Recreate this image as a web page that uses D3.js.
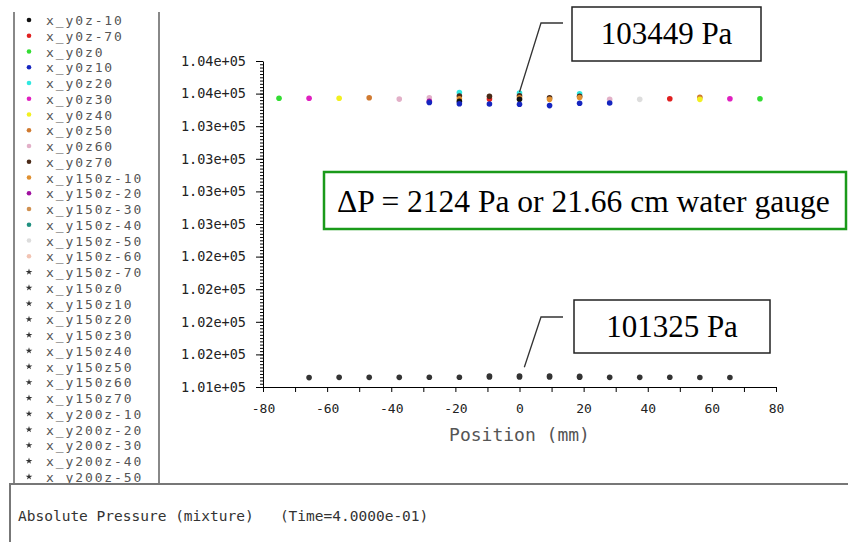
<!DOCTYPE html>
<html>
<head>
<meta charset="utf-8">
<script src="https://cdn.jsdelivr.net/npm/d3@7"></script>
<style>
  body { margin: 0; background: #fff; }
  svg { display: block; }
</style>
</head>
<body>
<div id="chart"></div>
<script>
// legend entries, in the order the solver listed them
var seriesNames = [
  "x_y0z-10", "x_y0z-70", "x_y0z0", "x_y0z10", "x_y0z20", "x_y0z30", "x_y0z40",
  "x_y0z50", "x_y0z60", "x_y0z70", "x_y150z-10", "x_y150z-20", "x_y150z-30",
  "x_y150z-40", "x_y150z-50", "x_y150z-60", "x_y150z-70", "x_y150z0", "x_y150z10",
  "x_y150z20", "x_y150z30", "x_y150z40", "x_y150z50", "x_y150z60", "x_y150z70",
  "x_y200z-10", "x_y200z-20", "x_y200z-30", "x_y200z-40", "x_y200z-50"
];
var seriesColors = [
  "#111111", "#e02020", "#33dd33", "#1525c0", "#30e8e0", "#e020c0", "#f2f020",
  "#d07a30", "#e2b0c8", "#4a2a18", "#e09030", "#a010a0", "#d09050",
  "#209080", "#dddddd", "#f2c4b4", "#333333", "#333333", "#333333",
  "#333333", "#333333", "#333333", "#333333", "#333333", "#333333",
  "#333333", "#333333", "#333333", "#333333", "#333333"
];

// pressure (Pa), per series: [position mm, value]
var seriesPoints = {
  "x_y0z0":     [[-75, 103464], [75, 103460]],
  "x_y0z30":    [[-65.625, 103464], [65.625, 103460]],
  "x_y0z50":    [[-46.875, 103468], [56.25, 103472]],
  "x_y0z40":    [[-56.25, 103464], [56.25, 103456]],
  "x_y0z-70":   [[-9.375, 103458], [46.875, 103460]],
  "x_y0z60":    [[-37.5, 103458], [-28.125, 103468], [28.125, 103456]],
  "x_y150z-50": [[37.5, 103456]],
  "x_y150z-20": [[-28.125, 103440]],
  "x_y0z20":    [[-18.75, 103508], [0, 103504], [18.75, 103498]],
  "x_y0z70":    [[-18.75, 103482], [-9.375, 103480], [0, 103484], [9.375, 103468], [18.75, 103480]],
  "x_y150z-10": [[-18.75, 103460], [0, 103468], [9.375, 103456], [18.75, 103470]],
  "x_y0z-10":   [[-18.75, 103440], [0, 103456]],
  "x_y0z10":    [[-28.125, 103432], [-18.75, 103422], [-9.375, 103420], [0, 103418],
                 [9.375, 103408], [18.75, 103426], [28.125, 103428]],
  "x_y200z-10": [[-65.625, 101322], [-56.25, 101324], [-46.875, 101324], [-37.5, 101324],
                 [-28.125, 101325], [-18.75, 101325], [-9.375, 101327], [0, 101327],
                 [9.375, 101327], [18.75, 101325], [28.125, 101324], [37.5, 101324],
                 [46.875, 101325], [56.25, 101323], [65.625, 101323]],
  "x_y200z-20": [[-9.375, 101334], [0, 101334], [9.375, 101334], [18.75, 101332]]
};
// draw order: later series sit on top
var drawOrder = ["x_y0z0", "x_y0z30", "x_y0z50", "x_y0z40", "x_y0z-70", "x_y0z60", "x_y150z-50",
  "x_y150z-20", "x_y0z20", "x_y0z70", "x_y150z-10", "x_y0z-10", "x_y0z10", "x_y200z-10", "x_y200z-20"];

var xTicks = [-80, -70, -60, -50, -40, -30, -20, -10, 0, 10, 20, 30, 40, 50, 60, 70, 80];
var xTickLabels = ["-80", "", "-60", "", "-40", "", "-20", "", "0", "", "20", "", "40", "", "60", "", "80"];
var yTicks = [101250, 101500, 101750, 102000, 102250, 102500, 102750, 103000, 103250, 103500, 103750];
var yTickLabels = ["1.01e+05", "1.02e+05", "1.02e+05", "1.02e+05", "1.02e+05", "1.03e+05",
                   "1.03e+05", "1.03e+05", "1.03e+05", "1.04e+05", "1.04e+05"];

var highValue = 103449, lowValue = 101325;

var width = 848, height = 542;
var mono = "'DejaVu Sans Mono', monospace";
var serif = "'Liberation Serif', 'Times New Roman', serif";

var svg = d3.select("#chart").append("svg")
  .attr("width", width)
  .attr("height", height);

var x = d3.scaleLinear().domain([-80, 80]).range([263, 776]);
var y = d3.scaleLinear().domain([101250, 103750]).range([387, 61]);

// legend panel
svg.append("line").attr("x1", 14).attr("x2", 14).attr("y1", 12).attr("y2", 484)
  .style("stroke", "#888").style("stroke-width", 2);
svg.append("line").attr("x1", 159).attr("x2", 159).attr("y1", 12).attr("y2", 484)
  .style("stroke", "#888").style("stroke-width", 2);

var legend = svg.append("g");
seriesNames.forEach(function(name, i) {
  var cy = 20 + i * 15.75;
  if (i < 16) {
    legend.append("circle").attr("cx", 29).attr("cy", cy).attr("r", 2.3)
      .style("fill", seriesColors[i]);
  } else {
    legend.append("path").attr("d", d3.symbol().type(d3.symbolStar).size(14)())
      .attr("transform", "translate(29," + cy + ")")
      .style("fill", seriesColors[i]);
  }
  legend.append("text").attr("x", 46).attr("y", cy + 5)
    .style("font-family", mono).style("font-size", "13px").style("letter-spacing", "1.9px")
    .style("fill", "#555")
    .text(name);
});

// axes
var yAxisG = svg.append("g").attr("transform", "translate(" + x(-80) + ",0)");
yAxisG.call(d3.axisLeft(y).tickValues(d3.range(101250, 103751, 25)).tickSize(3).tickFormat("").tickSizeOuter(0));
yAxisG.call(function(g) { g.select(".domain").remove(); });
var yMajor = svg.append("g").attr("transform", "translate(" + x(-80) + ",0)")
  .call(d3.axisLeft(y).tickValues(yTicks).tickSize(7).tickSizeOuter(0)
    .tickFormat(function(d, i) { return yTickLabels[i]; }));
yMajor.selectAll("text")
  .style("font-family", mono).style("font-size", "13.5px").style("fill", "#222")
  .attr("x", -17);

var xAxisG = svg.append("g").attr("transform", "translate(0," + y(101250) + ")")
  .call(d3.axisBottom(x).tickValues(xTicks).tickSize(5).tickSizeOuter(0)
    .tickFormat(function(d, i) { return xTickLabels[i]; }));
xAxisG.selectAll("text")
  .style("font-family", mono).style("font-size", "13px").style("fill", "#222")
  .attr("y", 17);
svg.selectAll(".domain, .tick line").style("stroke", "#000");

svg.append("text")
  .attr("x", (x(-80) + x(80)) / 2).attr("y", 441)
  .attr("text-anchor", "middle")
  .style("font-family", mono).style("font-size", "18px").style("fill", "#555")
  .text("Position (mm)");

// data points
var dots = svg.append("g");
drawOrder.forEach(function(name) {
  var i = seriesNames.indexOf(name);
  dots.selectAll(null).data(seriesPoints[name]).enter().append("circle")
    .attr("cx", function(d) { return x(d[0]); })
    .attr("cy", function(d) { return y(d[1]); })
    .attr("r", 2.8)
    .style("fill", seriesColors[i]);
});

// annotations
function callout(label, boxX, boxY, boxW, boxH, tipX, tipY, kneeY) {
  svg.append("polyline")
    .attr("points", [[tipX, tipY], [541, kneeY], [563, kneeY]].map(function(p) { return p.join(","); }).join(" "))
    .style("fill", "none").style("stroke", "#333").style("stroke-width", 1.3);
  svg.append("rect").attr("x", boxX).attr("y", boxY).attr("width", boxW).attr("height", boxH)
    .style("fill", "#fff").style("stroke", "#222").style("stroke-width", 1.5);
  svg.append("text").attr("x", boxX + boxW / 2).attr("y", boxY + boxH / 2 + 10)
    .attr("text-anchor", "middle")
    .style("font-family", serif).style("font-size", "31px").style("fill", "#000")
    .text(label);
}
callout(highValue + " Pa", 572, 7, 189, 54, x(0), y(103512), 23);
callout(lowValue + " Pa", 574, 300, 196, 53, x(1.5), y(101325) - 10, 317);

svg.append("rect").attr("x", 324).attr("y", 172).attr("width", 522).attr("height", 57)
  .style("fill", "#fff").style("stroke", "#1a9a1a").style("stroke-width", 2.5);
svg.append("text").attr("x", 337).attr("y", 212)
  .style("font-family", serif).style("font-size", "31.5px").style("fill", "#000")
  .text("\u0394P = " + (highValue - lowValue) + " Pa or 21.66 cm water gauge");

// title panel at the bottom
svg.append("rect").attr("x", 10).attr("y", 484).attr("width", 846).attr("height", 70)
  .style("fill", "#fff").style("stroke", "#777").style("stroke-width", 2);
svg.append("text").attr("x", 18).attr("y", 521)
  .style("font-family", mono).style("font-size", "14.5px").style("fill", "#333")
  .style("white-space", "pre")
  .text("Absolute Pressure (mixture)   (Time=4.0000e-01)");
</script>
</body>
</html>
